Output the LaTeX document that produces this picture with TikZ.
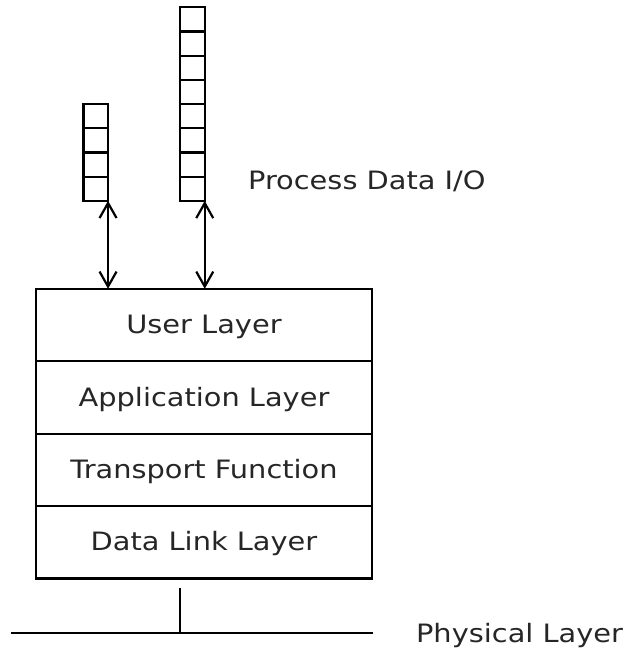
\documentclass[tikz,border=0pt]{standalone}
\usepackage{fontspec}
\setmainfont[FakeStretch=1.14]{DejaVu Sans}
\usetikzlibrary{arrows.meta}
\begin{document}
\begin{tikzpicture}[x=1pt,y=-1pt,
  line width=2.2pt,
  layerbox/.style={draw, minimum width=336.6pt, minimum height=72.4pt, inner sep=0pt, outer sep=0pt,
    font=\fontsize{25.3}{30}\selectfont, text=black!85, text depth=2pt},
  cell/.style={draw, minimum width=24.5pt, minimum height=24.2pt, inner sep=0pt, outer sep=0pt},
  link/.style={{Straight Barb[length=15pt,width=17pt,line width=2.2pt]}-{Straight Barb[length=15pt,width=17pt,line width=2.2pt]}},
  label/.style={font=\fontsize{25.3}{30}\selectfont, text=black!85, inner sep=0pt}]
\useasboundingbox (0,0) rectangle (626,653);

% protocol stack
\node[layerbox] (user) at (204,325) {User Layer};
\node[layerbox, anchor=north] (app) at (user.south) {Application Layer};
\node[layerbox, anchor=north] (trans) at (app.south) {Transport Function};
\node[layerbox, anchor=north] (dll) at (trans.south) {Data Link Layer};

% short process data buffer (4 cells)
\node[cell] (a1) at (95.8,116.1) {};
\foreach \i [count=\j from 2] in {1,2,3} {
  \node[cell, anchor=north] (a\j) at (a\i.south) {};
}
% long process data buffer (8 cells)
\node[cell] (b1) at (192.5,19.4) {};
\foreach \i [count=\j from 2] in {1,...,7} {
  \node[cell, anchor=north] (b\j) at (b\i.south) {};
}

% data exchange between buffers and user layer
\coordinate (ua) at (a4.south east |- user.north);
\coordinate (ub) at (b8.south east |- user.north);
\draw[link] (a4.south east) -- (ua);
\draw[link] (b8.south east) -- (ub);

\node[label, anchor=west] (pdio) at (247,181) {Process Data I/O};

% physical bus
\coordinate (busl) at (11,633);
\coordinate (busr) at (372.5,633);
\coordinate (tap) at (180,633);
\draw (busl) -- (busr);
\draw (tap |- 0,588) -- (tap);
\node[label, anchor=west] (phy) at (415,636) {Physical Layer};
\end{tikzpicture}
\end{document}
